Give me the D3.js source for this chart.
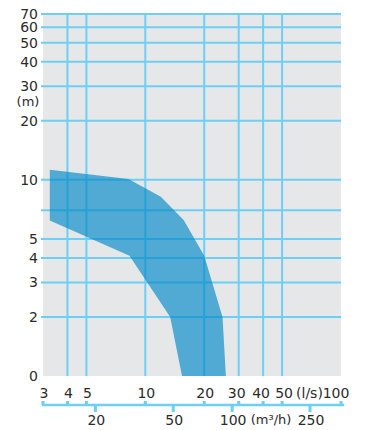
<!DOCTYPE html>
<html>
<head>
<meta charset="utf-8">
<script src="https://cdn.jsdelivr.net/npm/d3@7"></script>
<style>
  body { margin: 0; background: #fff; }
  text { font-family: "DejaVu Sans", sans-serif; fill: #2b2b2b; }
</style>
</head>
<body>
<svg id="chart" width="366" height="430"></svg>
<script>
// flow in l/s (top axis), flow in m3/h (bottom axis), head in m
var flowTicks = [3, 4, 5, 10, 20, 30, 40, 50, 100]
var flowGrid = [4, 5, 10, 20, 30, 40, 50]
var m3hTicks = [20, 50, 100, 250]
var headTicks = [0, 2, 3, 4, 5, 10, 20, 30, 40, 50, 60, 70]
var headGrid = [2, 3, 4, 5, 7, 10, 20, 30, 40, 50, 60, 70]

// operating range envelope [l/s, m]
var upperEdge = [[3.25, 11.25], [8.2, 10.1], [12, 8.2], [15.7, 6.25], [20, 4.1], [24.8, 2], [25.8, 0]]
var lowerEdge = [[3.25, 6.2], [8.3, 4.1], [13.4, 2], [15.4, 0]]

var plotL = 43, plotR = 341, plotT = 14, plotB = 376

var svg = d3.select("#chart")

var x = d3.scaleLog().domain([3, 100]).range([plotL, plotR])
var xm = function(v){ return x(v / 3.6) }

// head axis: log from 2 m upward, linear break down to 0
var yLog = d3.scaleLog().domain([2, 70]).range([317, plotT])
var yLin = d3.scaleLinear().domain([0, 2]).range([plotB, 317])
var y = function(v){ return v < 2 ? yLin(v) : yLog(v) }

var gridColor = "#6dcff6"

svg.append("rect")
  .attr("x", plotL).attr("y", plotT - 1)
  .attr("width", plotR - plotL).attr("height", plotB - plotT + 1)
  .attr("fill", "#e6e7e8")

var grid = svg.append("g")
grid.selectAll("line.v")
  .data(flowGrid)
  .enter()
  .append("line")
  .attr("class", "v")
  .attr("x1", function(d){ return x(d) })
  .attr("x2", function(d){ return x(d) })
  .attr("y1", plotT - 1)
  .attr("y2", plotB)
  .style("stroke", gridColor)
  .style("stroke-width", 2)

grid.selectAll("line.h")
  .data(headGrid)
  .enter()
  .append("line")
  .attr("class", "h")
  .attr("x1", plotL - 2)
  .attr("x2", plotR)
  .attr("y1", function(d){ return y(d) })
  .attr("y2", function(d){ return y(d) })
  .style("stroke", gridColor)
  .style("stroke-width", 2)

var pts = upperEdge.concat(lowerEdge.slice().reverse())
svg.append("path")
  .attr("d", d3.line()
    .x(function(d){ return x(d[0]) })
    .y(function(d){ return y(d[1]) })
    .curve(d3.curveLinearClosed)(pts))
  .attr("fill", "#0088c8")
  .attr("fill-opacity", 0.65)

// head labels
svg.append("g").selectAll("text")
  .data(headTicks)
  .enter()
  .append("text")
  .attr("x", 38)
  .attr("y", function(d){ return y(d) })
  .attr("dy", "0.36em")
  .attr("text-anchor", "end")
  .style("font-size", "14px")
  .text(function(d){ return d })

svg.append("text")
  .attr("x", 28).attr("y", y(25)).attr("dy", "0.36em")
  .attr("text-anchor", "middle")
  .style("font-size", "13px")
  .text("(m)")

// flow axis line
var axisY = 405
svg.append("line")
  .attr("x1", plotL - 1).attr("x2", plotR + 3)
  .attr("y1", axisY).attr("y2", axisY)
  .style("stroke", gridColor)
  .style("stroke-width", 2.5)

svg.append("g").selectAll("line")
  .data(flowTicks)
  .enter()
  .append("line")
  .attr("x1", function(d){ return x(d) })
  .attr("x2", function(d){ return x(d) })
  .attr("y1", axisY - 4)
  .attr("y2", axisY)
  .style("stroke", gridColor)
  .style("stroke-width", 3)

svg.append("g").selectAll("line")
  .data(m3hTicks)
  .enter()
  .append("line")
  .attr("x1", function(d){ return xm(d) })
  .attr("x2", function(d){ return xm(d) })
  .attr("y1", axisY)
  .attr("y2", axisY + 7)
  .style("stroke", gridColor)
  .style("stroke-width", 3)

var labelShift = { 30: -2, 40: -2, 50: 2, 100: -5 }
svg.append("g").selectAll("text")
  .data(flowTicks)
  .enter()
  .append("text")
  .attr("x", function(d){ return x(d) + (labelShift[d] !== undefined ? labelShift[d] : 1) })
  .attr("y", 398)
  .attr("text-anchor", "middle")
  .style("font-size", "14px")
  .text(function(d){ return d })

svg.append("text")
  .attr("x", x(69)).attr("y", 398)
  .attr("text-anchor", "middle")
  .style("font-size", "14px")
  .text("(l/s)")

svg.append("g").selectAll("text")
  .data(m3hTicks)
  .enter()
  .append("text")
  .attr("x", function(d){ return xm(d) + 1 })
  .attr("y", 425)
  .attr("text-anchor", "middle")
  .style("font-size", "14px")
  .text(function(d){ return d })

svg.append("text")
  .attr("x", xm(158)).attr("y", 424)
  .attr("text-anchor", "middle")
  .style("font-size", "13px")
  .text("(m³/h)")
</script>
</body>
</html>
